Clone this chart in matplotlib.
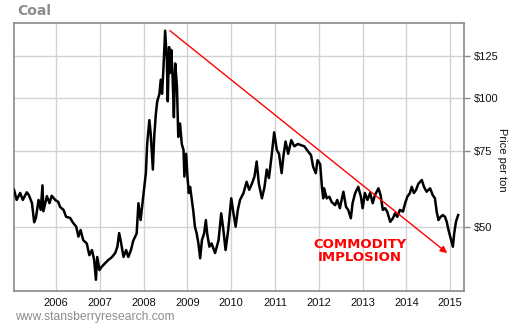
import matplotlib
matplotlib.use("Agg")
import matplotlib.pyplot as plt
from matplotlib.ticker import FixedLocator, FixedFormatter, NullLocator

# Coal price, dollars per ton (decimal year, price)
years = [
    2005.04, 2005.10, 2005.18, 2005.24, 2005.33, 2005.38, 2005.45, 2005.50, 2005.54, 2005.60,
    2005.65, 2005.69, 2005.71, 2005.79, 2005.85, 2005.90, 2005.98, 2006.05, 2006.09, 2006.17,
    2006.23, 2006.32, 2006.39, 2006.46, 2006.51, 2006.56, 2006.62, 2006.70, 2006.76, 2006.82,
    2006.87, 2006.91, 2006.94, 2006.99, 2007.04, 2007.12, 2007.19, 2007.27, 2007.35, 2007.40,
    2007.44, 2007.48, 2007.54, 2007.60, 2007.65, 2007.71, 2007.76, 2007.84, 2007.88, 2007.93,
    2007.99, 2008.05, 2008.08, 2008.13, 2008.16, 2008.21, 2008.24, 2008.28, 2008.31, 2008.36,
    2008.39, 2008.42, 2008.45, 2008.49, 2008.53, 2008.55, 2008.58, 2008.60, 2008.63, 2008.66,
    2008.69, 2008.72, 2008.76, 2008.79, 2008.83, 2008.87, 2008.91, 2008.93, 2008.97, 2009.00,
    2009.03, 2009.06, 2009.10, 2009.13, 2009.17, 2009.21, 2009.25, 2009.29, 2009.33, 2009.38,
    2009.42, 2009.45, 2009.50, 2009.55, 2009.63, 2009.71, 2009.77, 2009.82, 2009.87, 2009.93,
    2010.00, 2010.05, 2010.10, 2010.15, 2010.20, 2010.28, 2010.35, 2010.41, 2010.47, 2010.53,
    2010.58, 2010.63, 2010.70, 2010.76, 2010.81, 2010.86, 2010.92, 2010.98, 2011.04, 2011.09,
    2011.15, 2011.19, 2011.24, 2011.30, 2011.37, 2011.44, 2011.52, 2011.59, 2011.67, 2011.75,
    2011.82, 2011.87, 2011.93, 2011.97, 2012.03, 2012.07, 2012.10, 2012.12, 2012.18, 2012.24,
    2012.29, 2012.37, 2012.42, 2012.48, 2012.56, 2012.62, 2012.67, 2012.73, 2012.77, 2012.83,
    2012.90, 2012.96, 2013.00, 2013.05, 2013.11, 2013.17, 2013.23, 2013.28, 2013.36, 2013.41,
    2013.46, 2013.51, 2013.56, 2013.63, 2013.69, 2013.74, 2013.79, 2013.85, 2013.92, 2013.97,
    2014.02, 2014.08, 2014.12, 2014.17, 2014.22, 2014.27, 2014.35, 2014.40, 2014.46, 2014.54,
    2014.60, 2014.65, 2014.69, 2014.73, 2014.78, 2014.83, 2014.88, 2014.92, 2014.96, 2015.00,
    2015.06, 2015.09, 2015.13, 2015.18,
]
prices = [
    61.0, 57.8, 60.0, 57.8, 60.2, 59.3, 56.8, 51.3, 52.5, 57.8,
    54.8, 62.5, 54.4, 59.0, 56.8, 59.1, 57.8, 57.2, 55.7, 54.8,
    52.8, 52.5, 51.1, 50.1, 47.5, 49.2, 46.6, 45.8, 43.0, 44.2,
    41.9, 37.7, 42.6, 39.7, 40.4, 41.2, 41.9, 42.5, 43.5, 45.0,
    48.4, 46.2, 42.6, 44.2, 42.6, 44.2, 46.4, 48.3, 56.8, 51.9,
    58.8, 66.7, 78.0, 88.6, 82.5, 68.0, 81.0, 92.0, 98.0, 102.0,
    110.0, 102.0, 116.0, 143.0, 122.0, 98.0, 131.0, 114.0, 129.0, 112.0,
    90.0, 120.0, 106.0, 81.0, 87.0, 78.0, 75.5, 65.5, 74.0, 65.5,
    60.0, 62.0, 57.8, 54.8, 50.1, 48.3, 45.8, 42.3, 46.6, 48.3,
    51.9, 48.3, 45.0, 45.8, 43.5, 46.6, 53.8, 49.2, 44.2, 49.2,
    58.3, 53.8, 50.1, 54.8, 57.8, 60.0, 63.7, 61.0, 63.0, 65.5,
    71.0, 63.0, 58.3, 62.0, 68.0, 65.0, 73.0, 83.0, 75.5, 74.0,
    66.7, 73.0, 79.0, 74.0, 79.6, 77.0, 78.0, 77.5, 77.0, 75.0,
    73.5, 69.0, 66.7, 71.5, 70.0, 62.0, 58.3, 61.5, 58.3, 58.8,
    57.2, 56.2, 57.8, 55.3, 60.4, 55.7, 54.8, 52.4, 56.8, 60.0,
    62.0, 58.8, 55.3, 60.0, 57.8, 60.0, 56.8, 59.3, 61.5, 59.3,
    54.8, 55.3, 54.3, 51.4, 52.4, 53.8, 52.8, 54.8, 54.3, 56.8,
    58.8, 60.0, 62.0, 60.0, 61.0, 63.0, 64.3, 62.0, 60.4, 61.5,
    59.3, 58.3, 54.3, 51.9, 52.8, 53.3, 52.8, 51.4, 49.2, 47.5,
    45.0, 48.3, 51.4, 53.3,
]

year_ticks = [2006, 2007, 2008, 2009, 2010, 2011, 2012, 2013, 2014, 2015]
price_ticks = [50, 75, 100, 125]
price_labels = ["$50", "$75", "$100", "$125"]

plt.rcParams["font.family"] = ["Liberation Sans", "DejaVu Sans"]

fig = plt.figure(figsize=(5.10, 3.25), dpi=100)
ax = fig.add_axes([0.0275, 0.1046, 0.8824, 0.8246])

frame = "#8a8a8a"
grid = "#d2d2d2"

ax.plot(years, prices, color="black", lw=1.8, solid_joinstyle="round", zorder=3)

ax.set_yscale("log")
ax.set_xlim(2005.04, 2015.315)
ax.set_ylim(35.5, 149)

ax.yaxis.set_major_locator(FixedLocator(price_ticks))
ax.yaxis.set_major_formatter(FixedFormatter(price_labels))
ax.yaxis.set_minor_locator(NullLocator())
ax.set_xticks(year_ticks)
ax.set_xticklabels([str(y) for y in year_ticks])

ax.yaxis.tick_right()
ax.tick_params(axis="y", which="major", direction="out", length=4, width=1,
               color=frame, labelsize=8, pad=3, labelcolor="#111111")
ax.tick_params(axis="x", which="major", length=0, labelsize=8, pad=5,
               labelcolor="#111111")
fig.text(502 / 510, 1 - 160 / 325, "Price per ton", rotation=270,
         fontsize=8, color="#111111", ha="center", va="center")

ax.grid(True, color=grid, lw=1)
ax.set_axisbelow(True)
for s in ax.spines.values():
    s.set_color(frame)
    s.set_linewidth(1.2)

# Trend arrow from the 2008 peak down to the 2015 low
ax.annotate("", xy=(2014.93, 43.5), xytext=(2008.60, 143),
            arrowprops=dict(arrowstyle="-|>", color="#ff0000", lw=1,
                            mutation_scale=10, shrinkA=0, shrinkB=0),
            zorder=4)
ax.text(2012.94, 44.0, "COMMODITY\nIMPLOSION", color="#ff0000",
        fontsize=9.5, fontweight="bold", family="DejaVu Sans",
        ha="center", va="center", linespacing=1.05, zorder=5)

fig.text(17 / 510, 1 - 11 / 325, "Coal", color="#8c8c8c", fontsize=10,
         fontweight="bold", family="DejaVu Sans", ha="left", va="center")
fig.text(15 / 510, 1 - 317 / 325, "www.stansberryresearch.com",
         color="#8c8c8c", fontsize=8.7, ha="left", va="center")

fig.savefig("out.png", dpi=100)
